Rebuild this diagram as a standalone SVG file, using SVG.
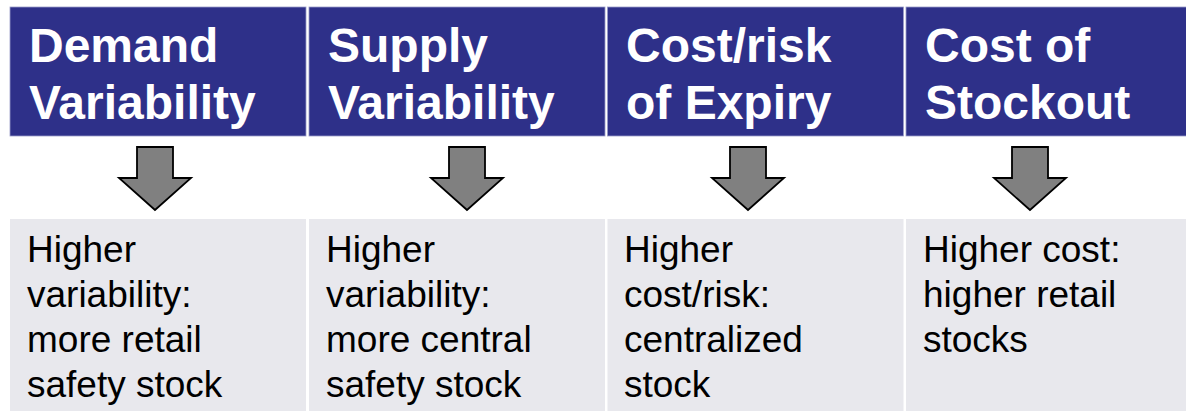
<svg xmlns="http://www.w3.org/2000/svg" width="1186" height="411" viewBox="0 0 1186 411">
  <style>
    .hdr { fill: #2E3089; stroke: #9A9CC8; stroke-width: 0.8; }
    .body { fill: #E8E8ED; }
    .htxt { font-family: "Liberation Sans", Arial, sans-serif; font-weight: bold; font-size: 48px; fill: #FFFFFF; }
    .btxt { font-family: "Liberation Sans", Arial, sans-serif; font-size: 37px; fill: #000000; }
    .arrow { fill: #808080; stroke: #000000; stroke-width: 1.8; stroke-linejoin: miter; }
  </style>
  <defs>
    <path id="downArrow" d="M -18 147 L 18 147 L 18 178 L 36 178 L 0 210 L -36 178 L -18 178 Z"/>
  </defs>
  <rect x="0" y="0" width="1186" height="411" fill="#FFFFFF"/>

  <g id="col1">
    <rect class="hdr" x="10" y="7" width="296" height="129"/>
    <text class="htxt" x="29" y="62">Demand</text>
    <text class="htxt" x="29" y="119">Variability</text>
    <rect class="body" x="10" y="219" width="296" height="192"/>
    <text class="btxt" x="27" y="262">Higher</text>
    <text class="btxt" x="27" y="307">variability:</text>
    <text class="btxt" x="27" y="352">more retail</text>
    <text class="btxt" x="27" y="397">safety stock</text>
  </g>

  <g id="col2">
    <rect class="hdr" x="309" y="7" width="296" height="129"/>
    <text class="htxt" x="328" y="62">Supply</text>
    <text class="htxt" x="328" y="119">Variability</text>
    <rect class="body" x="309" y="219" width="296" height="192"/>
    <text class="btxt" x="326" y="262">Higher</text>
    <text class="btxt" x="326" y="307">variability:</text>
    <text class="btxt" x="326" y="352">more central</text>
    <text class="btxt" x="326" y="397">safety stock</text>
  </g>

  <g id="col3">
    <rect class="hdr" x="607.5" y="7" width="296" height="129"/>
    <text class="htxt" x="626" y="62">Cost/risk</text>
    <text class="htxt" x="626" y="119">of Expiry</text>
    <rect class="body" x="607.5" y="219" width="296" height="192"/>
    <text class="btxt" x="624" y="262">Higher</text>
    <text class="btxt" x="624" y="307">cost/risk:</text>
    <text class="btxt" x="624" y="352">centralized</text>
    <text class="btxt" x="624" y="397">stock</text>
  </g>

  <g id="col4">
    <rect class="hdr" x="906" y="7" width="296" height="129"/>
    <text class="htxt" x="925" y="62">Cost of</text>
    <text class="htxt" x="925" y="119">Stockout</text>
    <rect class="body" x="906" y="219" width="296" height="192"/>
    <text class="btxt" x="923" y="262">Higher cost:</text>
    <text class="btxt" x="923" y="307">higher retail</text>
    <text class="btxt" x="923" y="352">stocks</text>
  </g>

  <g id="connectors">
    <use href="#downArrow" class="arrow" x="155" y="0"/>
    <use href="#downArrow" class="arrow" x="467" y="0"/>
    <use href="#downArrow" class="arrow" x="748" y="0"/>
    <use href="#downArrow" class="arrow" x="1030" y="0"/>
  </g>
</svg>
